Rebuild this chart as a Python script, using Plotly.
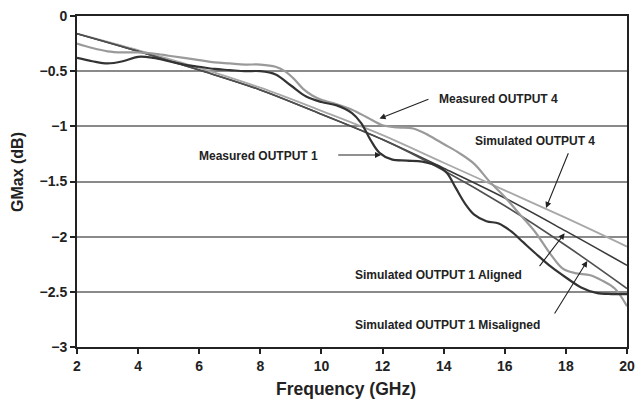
import plotly.graph_objects as go

# Measured OUTPUT 1
m1_f = [2, 2.5, 3, 3.5, 4, 4.5, 5, 5.5, 6, 6.5, 7, 7.5, 8, 8.5, 9, 9.5, 10, 10.5, 11, 11.3, 11.6, 11.9,
        12.3, 12.8, 13.3, 13.8, 14.1, 14.4, 14.7, 15.0, 15.4, 15.8, 16.2, 16.6, 17.0, 17.5, 18.0, 18.5,
        19.0, 19.5, 20]
m1_v = [-0.38, -0.41, -0.43, -0.41, -0.37, -0.38, -0.41, -0.44, -0.46, -0.48, -0.49, -0.50, -0.50,
        -0.53, -0.63, -0.73, -0.78, -0.81, -0.88, -0.97, -1.12, -1.24, -1.30, -1.31, -1.32, -1.36,
        -1.42, -1.56, -1.70, -1.80, -1.86, -1.88, -1.95, -2.05, -2.15, -2.27, -2.37, -2.46, -2.51,
        -2.52, -2.52]

# Measured OUTPUT 4
m4_f = [2, 2.5, 3, 3.5, 4, 4.5, 5, 5.5, 6, 6.5, 7, 7.5, 8, 8.5, 8.8, 9.1, 9.4, 9.7, 10, 10.5, 11,
        11.5, 12, 12.5, 13, 13.5, 14, 14.5, 15, 15.5, 16, 16.5, 17, 17.5, 17.9, 18.3, 18.8, 19.2,
        19.6, 20]
m4_v = [-0.25, -0.29, -0.32, -0.33, -0.33, -0.34, -0.36, -0.38, -0.40, -0.42, -0.43, -0.44, -0.44,
        -0.46, -0.50, -0.57, -0.66, -0.72, -0.76, -0.80, -0.85, -0.92, -0.99, -1.01, -1.02, -1.08,
        -1.16, -1.24, -1.34, -1.50, -1.64, -1.80, -1.96, -2.16, -2.29, -2.33, -2.35, -2.40, -2.47,
        -2.63]

# Simulated curves
sim_f = [2, 4, 6, 8, 10, 12, 14, 16, 18, 20]
s4_v = [-0.16, -0.31, -0.47, -0.65, -0.86, -1.08, -1.33, -1.58, -1.83, -2.09]
s1a_v = [-0.16, -0.32, -0.49, -0.67, -0.89, -1.12, -1.38, -1.65, -1.95, -2.26]
s1m_v = [-0.16, -0.32, -0.49, -0.67, -0.89, -1.12, -1.40, -1.72, -2.08, -2.47]

x_ticks = [2, 4, 6, 8, 10, 12, 14, 16, 18, 20]
y_ticks = [0, -0.5, -1, -1.5, -2, -2.5, -3]

fig = go.Figure()
fig.add_trace(go.Scatter(x=sim_f, y=s4_v, mode="lines", line=dict(color="#a8a8a8", width=1.8, shape="spline"),
                         name="Simulated OUTPUT 4"))
fig.add_trace(go.Scatter(x=sim_f, y=s1a_v, mode="lines", line=dict(color="#3a3a3a", width=1.6, shape="spline"),
                         name="Simulated OUTPUT 1 Aligned"))
fig.add_trace(go.Scatter(x=sim_f, y=s1m_v, mode="lines", line=dict(color="#505050", width=1.6, shape="spline"),
                         name="Simulated OUTPUT 1 Misaligned"))
fig.add_trace(go.Scatter(x=m4_f, y=m4_v, mode="lines", line=dict(color="#9a9a9a", width=2.2, shape="spline"),
                         name="Measured OUTPUT 4"))
fig.add_trace(go.Scatter(x=m1_f, y=m1_v, mode="lines", line=dict(color="#333333", width=2.2, shape="spline"),
                         name="Measured OUTPUT 1"))

font_b = "Liberation Sans, Arial, sans-serif"

annos = [
    # text, text x, text y, arrow tail x, y, arrow tip x, y, anchor
    ("Measured OUTPUT 4", 13.78, -0.75, 13.55, -0.75, 11.9, -0.93, "left"),
    ("Simulated OUTPUT 4", 14.95, -1.13, 18.1, -1.23, 17.35, -1.74, "left"),
    ("Measured OUTPUT 1", 9.95, -1.27, 10.5, -1.26, 11.95, -1.26, "right"),
    ("Simulated OUTPUT 1 Aligned", 11.03, -2.35, 17.1, -2.28, 17.96, -1.97, "left"),
    ("Simulated OUTPUT 1 Misaligned", 11.03, -2.80, 17.6, -2.71, 18.7, -2.22, "left"),
]
for text, tx, ty, x0, y0, x1, y1, xa in annos:
    fig.add_annotation(x=tx, y=ty, text="<b>%s</b>" % text, showarrow=False, xanchor=xa,
                       yanchor="middle", font=dict(family=font_b, size=12, color="#222"))
    fig.add_annotation(x=x1, y=y1, ax=x0, ay=y0, axref="x", ayref="y", xref="x", yref="y",
                       text="", showarrow=True, arrowhead=2, arrowsize=1.1, arrowwidth=1.1,
                       arrowcolor="#222")

# axis titles (positions given in pixels, converted to paper coordinates of the 550x331 plot area)
PL, PT, PW, PH = 77, 16, 550, 331
def px_to_paper(px, py):
    return (px - PL) / PW, (PT + PH - py) / PH

xt_x, xt_y = px_to_paper(346, 389)
fig.add_annotation(x=xt_x, y=xt_y, xref="paper", yref="paper", xanchor="center", yanchor="middle",
                   text="<b>Frequency (GHz)</b>", showarrow=False,
                   font=dict(family=font_b, size=17.5, color="#222"))
yt_x, yt_y = px_to_paper(17, 172)
fig.add_annotation(x=yt_x, y=yt_y, xref="paper", yref="paper", xanchor="center", yanchor="middle",
                   text="<b>GMax (dB)</b>", textangle=-90, showarrow=False,
                   font=dict(family=font_b, size=16, color="#222"))

fig.update_layout(
    width=636, height=401,
    margin=dict(l=PL, r=636 - PL - PW, t=PT, b=401 - PT - PH, autoexpand=False),
    paper_bgcolor="white", plot_bgcolor="white",
    showlegend=False,
    font=dict(family=font_b, color="#222"),
)
fig.update_xaxes(
    range=[2, 20], tickvals=x_ticks, ticktext=["<b>%d</b>" % v for v in x_ticks],
    tickfont=dict(size=14, family=font_b, color="#222"),
    showline=True, linecolor="#222", linewidth=2, mirror=True,
    ticks="outside", ticklen=5, tickwidth=1.5, tickcolor="#222",
    showgrid=False, zeroline=False, automargin=False,
)
fig.update_yaxes(
    range=[-3, 0], tickvals=y_ticks,
    ticktext=["<b>%s</b>" % ("0" if v == 0 else ("%g" % v).replace("-", "\u2212")) for v in y_ticks],
    tickfont=dict(size=14, family=font_b, color="#222"),
    showline=True, linecolor="#222", linewidth=2, mirror=True,
    ticks="outside", ticklen=5, tickwidth=1.5, tickcolor="#222",
    showgrid=True, gridcolor="#8a8a8a", gridwidth=1.5, zeroline=False, automargin=False,
)

fig.write_html("out.html")
